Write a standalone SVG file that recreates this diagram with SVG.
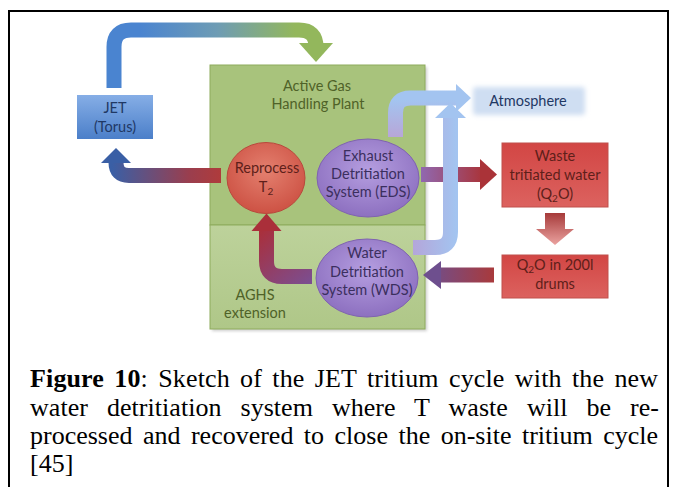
<svg xmlns="http://www.w3.org/2000/svg" width="674" height="487" viewBox="0 0 674 487">
<style>
.lbl{font-family:Lato,"Liberation Sans",sans-serif;font-size:14.5px;text-anchor:middle}
.green{fill:#4f6228}
.navy{fill:#1f3864}
.red{fill:#5e1f1a}
.purp{fill:#3b2f5e}
.cap{font-family:"Liberation Serif","Times New Roman",serif;font-size:26px;fill:#000}
.shaft{fill:none;stroke-linecap:butt;stroke-linejoin:round}
</style>
<defs>
<linearGradient id="gTop" gradientUnits="userSpaceOnUse" x1="140" y1="0" x2="295" y2="0">
<stop offset="0" stop-color="#4a84d0"/><stop offset="0.5" stop-color="#6e9cb4"/><stop offset="1" stop-color="#93b75c"/>
</linearGradient>
<linearGradient id="gRet" gradientUnits="userSpaceOnUse" x1="222" y1="0" x2="112" y2="0">
<stop offset="0" stop-color="#b03b3b"/><stop offset="0.3" stop-color="#9a3e4e"/><stop offset="1" stop-color="#3a5fa5"/>
</linearGradient>
<linearGradient id="gUp" gradientUnits="userSpaceOnUse" x1="312" y1="282" x2="266" y2="225">
<stop offset="0" stop-color="#7b4e91"/><stop offset="1" stop-color="#aa2f3a"/>
</linearGradient>
<linearGradient id="gEW" gradientUnits="userSpaceOnUse" x1="421" y1="0" x2="484" y2="0">
<stop offset="0" stop-color="#9068b0"/><stop offset="1" stop-color="#aa3338"/>
</linearGradient>
<linearGradient id="gDW" gradientUnits="userSpaceOnUse" x1="494" y1="0" x2="428" y2="0">
<stop offset="0" stop-color="#a93a3c"/><stop offset="1" stop-color="#6e4f8e"/>
</linearGradient>
<linearGradient id="gDown" gradientUnits="userSpaceOnUse" x1="0" y1="213" x2="0" y2="245">
<stop offset="0" stop-color="#a63a3a"/><stop offset="1" stop-color="#eba3a0"/>
</linearGradient>
<linearGradient id="gA1" gradientUnits="userSpaceOnUse" x1="0" y1="136" x2="0" y2="100">
<stop offset="0" stop-color="#b7a7d8"/><stop offset="1" stop-color="#a3c4f0"/>
</linearGradient>
<linearGradient id="gA2" gradientUnits="userSpaceOnUse" x1="413" y1="0" x2="456" y2="0">
<stop offset="0" stop-color="#b4a6da"/><stop offset="1" stop-color="#a3c4f0"/>
</linearGradient>
<linearGradient id="gJet" x1="0" y1="0" x2="0" y2="1">
<stop offset="0" stop-color="#86aee6"/><stop offset="1" stop-color="#4b7fc9"/>
</linearGradient>
<linearGradient id="gBox" x1="0" y1="0" x2="0" y2="1">
<stop offset="0" stop-color="#d24644"/><stop offset="1" stop-color="#dc625f"/>
</linearGradient>
<linearGradient id="gLow" x1="0" y1="0" x2="0" y2="1">
<stop offset="0" stop-color="#bdd29b"/><stop offset="1" stop-color="#afc788"/>
</linearGradient>
<radialGradient id="gRep" cx="0.5" cy="0.4" r="0.6">
<stop offset="0" stop-color="#e4806f"/><stop offset="1" stop-color="#cd5244"/>
</radialGradient>
<radialGradient id="gPur" cx="0.5" cy="0.4" r="0.6">
<stop offset="0" stop-color="#b59ee0"/><stop offset="1" stop-color="#8d70c0"/>
</radialGradient>
<filter id="blur" x="-20%" y="-40%" width="140%" height="180%"><feGaussianBlur stdDeviation="2.5"/></filter>
<filter id="sh" x="-5%" y="-5%" width="110%" height="110%"><feGaussianBlur stdDeviation="1.5"/></filter>
</defs>

<g id="frame" fill="none" stroke="#000" stroke-width="2">
<path d="M8,11 H669 M9,10 V487 M668,10 V487"/>
</g>

<g id="agh-plant">
<rect x="212" y="67" width="215" height="264" fill="#9a9a9a" opacity="0.5" filter="url(#sh)"/>
<rect x="210" y="65" width="215" height="160" fill="#a8c37c" stroke="#8eab5d" stroke-width="1"/>
<text class="lbl green" x="317" y="90.5">Active Gas</text>
<text class="lbl green" x="318" y="109">Handling Plant</text>
</g>
<g id="aghs-extension">
<rect x="210" y="225" width="215" height="104" fill="url(#gLow)" stroke="#8eab5d" stroke-width="1"/>
<text class="lbl green" x="255" y="299.5">AGHS</text>
<text class="lbl green" x="255" y="317.5">extension</text>
</g>

<g id="connectors">
<path class="shaft" d="M114,88 V47 Q114,30 131,30 H299 Q316,30 316,47" stroke="url(#gTop)" stroke-width="15"/>
<polygon points="299,43 333,43 316,62" fill="#93b75c"/>
<path class="shaft" d="M221,175.5 H129 Q116,175.5 116,162.5" stroke="url(#gRet)" stroke-width="15"/>
<polygon points="101,163 131,163 116,148" fill="#3a5fa5"/>
<path class="shaft" d="M312,276.5 H282 Q266.5,276.5 266.5,261 V230" stroke="url(#gUp)" stroke-width="15"/>
<polygon points="251.5,231 281.5,231 266.5,213.5" fill="#aa2f3a"/>
<path class="shaft" d="M395.5,137 V113 Q395.5,98 410.5,98 H457" stroke="url(#gA1)" stroke-width="15"/>
<polygon points="456,84 456,112 471,98" fill="#a3c4f0"/>
<path class="shaft" d="M421,174.5 H481" stroke="url(#gEW)" stroke-width="15"/>
<polygon points="480,159 480,190 497,174.5" fill="#aa3338"/>
<path class="shaft" d="M413,247.5 H435 Q450.5,247.5 450.5,232 V117" stroke="url(#gA2)" stroke-width="15"/>
<polygon points="435,118 466,118 450.5,103" fill="#a3c4f0"/>
<path class="shaft" d="M555,213 V230" stroke="url(#gDown)" stroke-width="20"/>
<polygon points="536,229 574,229 555,245" fill="url(#gDown)"/>
<path class="shaft" d="M494,275 H439" stroke="url(#gDW)" stroke-width="15"/>
<polygon points="441,261 441,289 423,275" fill="#6e4f8e"/>
</g>

<g id="jet">
<rect x="77" y="95" width="76" height="44" fill="url(#gJet)"/>
<text class="lbl navy" x="115" y="113">JET</text>
<text class="lbl navy" x="115" y="131.5">(Torus)</text>
</g>

<g id="atmosphere">
<rect x="473" y="87" width="112" height="28" rx="3" fill="#cfdef2" filter="url(#blur)"/>
<text class="lbl navy" x="528" y="106">Atmosphere</text>
</g>

<g id="reprocess">
<ellipse cx="266" cy="178" rx="39" ry="35.5" fill="url(#gRep)" stroke="#b9483c" stroke-width="1"/>
<text class="lbl red" x="267" y="172.5">Reprocess</text>
<text class="lbl red" x="266" y="192">T<tspan font-size="10" dy="3">2</tspan></text>
</g>

<g id="eds">
<ellipse cx="368" cy="178" rx="51" ry="39" fill="url(#gPur)" stroke="#7f62b0" stroke-width="1"/>
<text class="lbl purp" x="368" y="160.5">Exhaust</text>
<text class="lbl purp" x="368" y="178.5">Detritiation</text>
<text class="lbl purp" x="368" y="197">System (EDS)</text>
</g>

<g id="wds">
<ellipse cx="367" cy="278" rx="51" ry="39" fill="url(#gPur)" stroke="#7f62b0" stroke-width="1"/>
<text class="lbl purp" x="367" y="258">Water</text>
<text class="lbl purp" x="367" y="276.5">Detritiation</text>
<text class="lbl purp" x="367" y="295">System (WDS)</text>
</g>

<g id="waste">
<rect x="502" y="143" width="106" height="64" fill="url(#gBox)" stroke="#c0504d" stroke-width="1"/>
<text class="lbl red" x="555" y="161">Waste</text>
<text class="lbl red" x="555" y="180">tritiated water</text>
<text class="lbl red" x="555" y="198.5">(Q<tspan font-size="10" dy="3">2</tspan><tspan dy="-3">O)</tspan></text>
</g>

<g id="drums">
<rect x="502" y="255" width="106" height="43" fill="url(#gBox)" stroke="#c0504d" stroke-width="1"/>
<text class="lbl red" x="555" y="270">Q<tspan font-size="10" dy="3">2</tspan><tspan dy="-3">O in 200l</tspan></text>
<text class="lbl red" x="555" y="289">drums</text>
</g>

<g id="caption">
<text class="cap" x="30" y="387" word-spacing="3.7" textLength="628" lengthAdjust="spacing"><tspan font-weight="bold">Figure 10</tspan>: Sketch of the JET tritium cycle with the new</text>
<text class="cap" x="30" y="415.5" word-spacing="12.4" textLength="629" lengthAdjust="spacing">water detritiation system where T waste will be re-</text>
<text class="cap" x="30" y="444" word-spacing="4" textLength="628" lengthAdjust="spacing">processed and recovered to close the on-site tritium cycle</text>
<text class="cap" x="30" y="472">[45]</text>
</g>
</svg>
